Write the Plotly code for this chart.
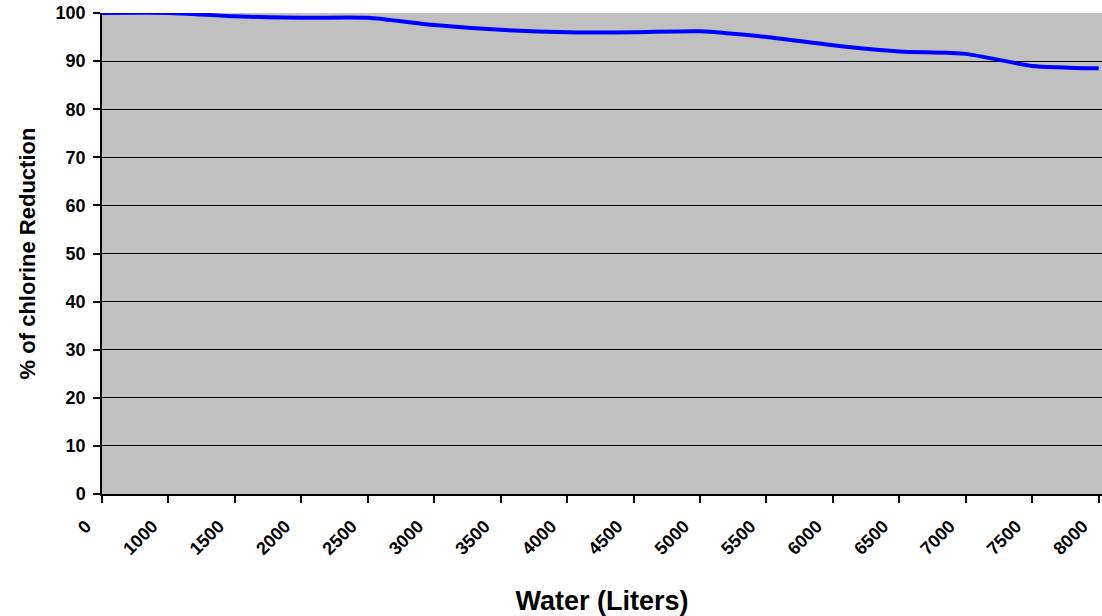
import plotly.graph_objects as go

water_liters = ["0", "1000", "1500", "2000", "2500", "3000", "3500", "4000",
                "4500", "5000", "5500", "6000", "6500", "7000", "7500", "8000"]
chlorine_reduction = [100, 100, 99.3, 99, 99, 97.5, 96.5, 96,
                      96, 96.2, 95, 93.3, 92, 91.5, 89, 88.5]
y_ticks = [0, 10, 20, 30, 40, 50, 60, 70, 80, 90, 100]

fig = go.Figure()
fig.add_trace(go.Scatter(
    x=water_liters, y=chlorine_reduction, mode="lines",
    line=dict(color="#0000FF", width=4, shape="spline", smoothing=0.6),
    showlegend=False, hoverinfo="x+y",
))

font_family = "Liberation Sans, Arial, sans-serif"
fig.update_layout(
    width=1102, height=616,
    margin=dict(l=102, r=0, t=13, b=122),
    paper_bgcolor="white", plot_bgcolor="#C0C0C0",
    font=dict(family=font_family, color="black"),
    xaxis=dict(
        type="category", range=[0, 15.05], automargin=False,
        showgrid=False, showline=True, linecolor="black", linewidth=1.5,
        ticks="outside", ticklen=7, tickcolor="black", tickwidth=1.5,
        tickangle=-45, ticklabelstandoff=6, ticklabelshift=-16,
        ticklabeloverflow="allow",
        tickfont=dict(family=font_family, size=18, color="black", weight="bold"),
        title=dict(text="<b>Water (Liters)</b>", font=dict(size=27, family=font_family), standoff=38),
        zeroline=False,
    ),
    yaxis=dict(
        range=[0, 100], tickvals=y_ticks, automargin=False,
        showgrid=True, gridcolor="black", gridwidth=1,
        showline=True, linecolor="black", linewidth=1.5,
        ticks="outside", ticklen=7, tickcolor="black", tickwidth=1.5,
        ticklabelstandoff=4, ticklabeloverflow="allow",
        tickfont=dict(family=font_family, size=18, color="black", weight="bold"),
        title=dict(text="<b>% of chlorine Reduction</b>", font=dict(size=22, family=font_family), standoff=14),
        zeroline=False,
    ),
)
fig.write_html(
    "out.html",
    config={"displayModeBar": False},
    post_script="document.body.style.margin='0';document.body.style.overflow='hidden';",
)
